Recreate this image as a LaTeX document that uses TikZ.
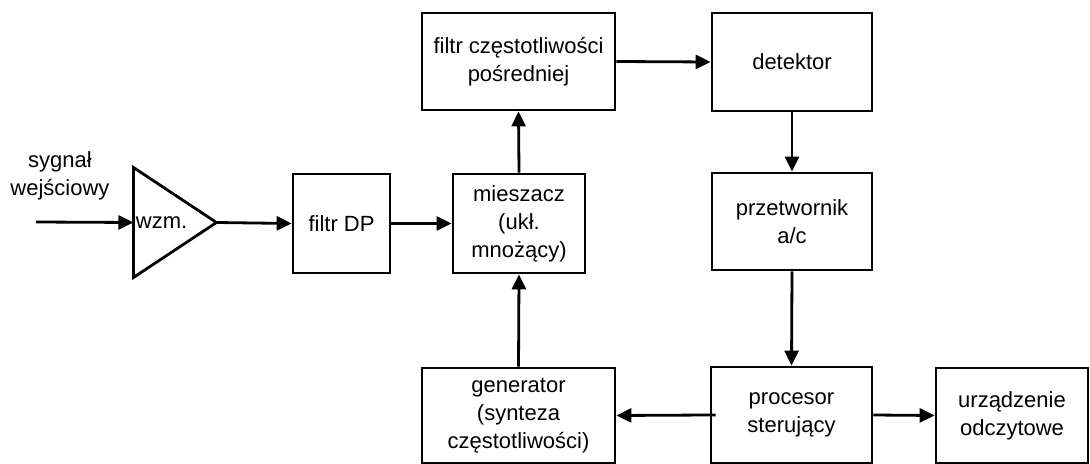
\documentclass[tikz,border=0pt]{standalone}
\usepackage{fontspec}
\setmainfont{Liberation Sans}
\usetikzlibrary{arrows.meta,shapes}

\begin{document}
\begin{tikzpicture}[x=0.5pt,y=-0.5pt,
  every node/.style={font=\fontsize{11}{14}\selectfont},
  blok/.style={draw,line width=1.4pt,align=center,inner sep=2pt},
  strz/.style={-{Triangle[length=7.5pt,width=7pt]},line width=1.4pt}]
\useasboundingbox (0,0) rectangle (1090,464);

% wejscie i wzmacniacz
\node[align=center] (we) at (60,176) {sygnał\\wejściowy};
\coordinate (in) at (36,222);
\node[draw,line width=1.4pt,isosceles triangle,isosceles triangle stretches,
  minimum width=55pt,minimum height=41.5pt,inner sep=0pt,outer sep=0pt] (amp) at (163,222.5) {};
\node[anchor=west,inner sep=1pt] (wzm) at (amp.west) {wzm.};

% bloki
\node[blok,minimum width=48.5pt,minimum height=49.5pt] (dp) at (341.5,223.5) {filtr DP};
\node[blok,minimum width=66pt,minimum height=49.5pt] (mix) at (519,223.5) {mieszacz\\(ukł.\\mnożący)};
\node[blok,minimum width=96.5pt,minimum height=48.5pt] (if) at (518.5,61.5) {filtr częstotliwości\\pośredniej};
\node[blok,minimum width=80pt,minimum height=49pt] (det) at (792,62) {detektor};
\node[blok,minimum width=80pt,minimum height=48.5pt] (adc) at (792,221.5) {przetwornik\\a/c};
\node[blok,minimum width=80.5pt,minimum height=48pt] (proc) at (791.5,415) {procesor\\sterujący};
\node[blok,minimum width=96.5pt,minimum height=47.5pt] (gen) at (518.5,415.5) {generator\\(synteza\\częstotliwości)};
\node[blok,minimum width=76pt,minimum height=47.5pt] (out) at (1012,415.5) {urządzenie\\odczytowe};

% polaczenia
\draw[strz] (in) -- (amp.west);
\draw[strz] (amp.east) -- (dp.west);
\draw[strz] (dp.east) -- (mix.west);
\draw[strz] (mix.north) -- (if.south);
\draw[strz] (if.east) -- (det.west);
\draw[strz] (det.south) -- (adc.north);
\draw[strz] (adc.south) -- (proc.north);
\draw[strz,shorten <=-3pt] (proc.west) -- (gen.east);
\draw[strz] (proc.east) -- (out.west);
\draw[strz] (gen.north) -- (mix.south);
\end{tikzpicture}
\end{document}
